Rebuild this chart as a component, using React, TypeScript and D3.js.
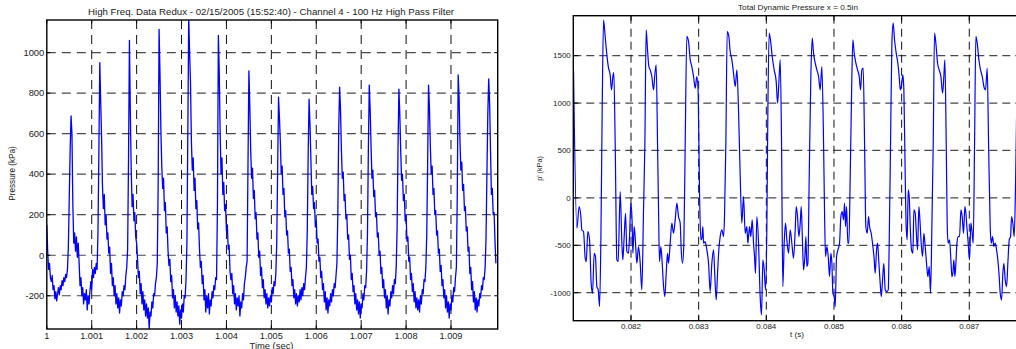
import React from 'react';
import * as d3 from 'd3';

// ---------- Left panel data (sampled every 0.00002 s from t = 1) ----------
const leftStart = 1;
const leftStep = 0.00002;
const leftValues = [
  150, 20, -70, -40, -110, -130, -100, -170, -150, -215, -180, -225, -190, -160, -195, -150, -170, -125, -150, -110, -130, -95, -110, -70, 40, 280, 520,
  688,
  600, 250, 60, 110, 20, 90, -10, 60, -40, -150, -110, -200, -160, -240, -190, -220, -170, -270, -200, -240, -180, -130, -170, -70, -110, -60, -90, -40, -70, 120, 520,
  950,
  760, 580, 340, 230, 300, 150, 200, 80, 110, 10, 40, -90, -40, -150, -110, -200, -150, -240, -190, -260, -210, -285, -220, -250, -180, -200, -150, -170, -100, -60, 30, 480,
  1060,
  700, 420, 240, 300, 170, 210, 90, 60, -20, -110, -80, -190, -140, -240, -180, -270, -220, -300, -240, -310, -260, -363, -280, -300, -230, -260, -190, -200, -140, -110, -40, 350,
  1115,
  900, 620, 440, 330, 380, 220, 260, 110, 140, 20, -50, -20, -130, -100, -210, -170, -260, -200, -280, -230, -300, -250, -340, -270, -310, -240, -280, -200, -210, -120, 60, 600,
  1175,
  1000, 850, 560, 420, 480, 320, 380, 230, 270, 130, 160, 30, -60, -30, -140, -100, -220, -170, -280, -200, -260, -190, -290, -220, -250, -180, -210, -150, -170, -110, -120, 250,
  1085,
  900, 600, 400, 480, 300, 360, 220, 250, 120, 150, 30, 50, -80, -120, -90, -190, -150, -240, -190, -270, -210, -250, -200, -300, -230, -260, -190, -220, -140, -110, -60, -30, 450,
  910,
  740, 520, 380, 430, 280, 320, 180, 210, 80, 110, -10, 20, -100, -60, -160, -120, -210, -170, -240, -190, -260, -210, -250, -200, -230, -160, -190, -130, -150, -90, 60, 420,
  780,
  680, 560, 400, 440, 300, 330, 190, 220, 100, 120, 10, 30, -80, -60, -150, -120, -210, -170, -240, -190, -250, -200, -230, -170, -220, -160, -200, -140, -170, -110, -60, 120, 500,
  770,
  650, 480, 300, 340, 230, 260, 140, 170, 60, 80, -30, -10, -110, -80, -170, -140, -230, -180, -270, -210, -285, -220, -250, -190, -230, -170, -200, -140, -160, -100, -40, 200, 620,
  830,
  720, 520, 380, 410, 270, 300, 180, 200, 80, 100, -20, 0, -120, -90, -180, -150, -240, -190, -270, -220, -290, -230, -310, -240, -260, -190, -220, -150, -160, -80, 100, 520,
  840,
  720, 540, 380, 420, 290, 320, 190, 210, 90, 110, 0, 20, -90, -60, -160, -120, -210, -170, -260, -200, -290, -220, -250, -180, -210, -150, -190, -120, -140, -60, 130, 520,
  820,
  700, 520, 370, 400, 270, 300, 170, 200, 70, 90, -30, -10, -120, -90, -180, -140, -230, -180, -260, -210, -270, -220, -280, -200, -240, -170, -190, -120, -130, -60, 100, 450,
  840,
  730, 540, 400, 440, 300, 330, 200, 220, 100, 120, 10, 30, -80, -50, -150, -120, -210, -170, -260, -200, -280, -230, -310, -240, -270, -200, -230, -160, -180, -110, -60, 300,
  890,
  780, 560, 420, 460, 320, 350, 220, 240, 120, 140, 20, 40, -90, -60, -170, -130, -230, -180, -270, -210, -280, -220, -250, -190, -210, -150, -170, -110, -120, -60, 80, 400, 700,
  870,
  750, 520, 300, 330, 200, 210, 70, -40,
];
const leftXTicks = [1, 1.001, 1.002, 1.003, 1.004, 1.005, 1.006, 1.007, 1.008, 1.009];
const leftXTickLabels = ['1', '1.001', '1.002', '1.003', '1.004', '1.005', '1.006', '1.007', '1.008', '1.009'];
const leftYTicks = [-200, 0, 200, 400, 600, 800, 1000];
const leftTitle = 'High Freq. Data Redux - 02/15/2005 (15:52:40) - Channel 4 - 100 Hz High Pass Filter';

// ---------- Right panel data (time in ms, pressure in kPa) ----------
const rightTimeMs = [
  81.150, 81.200, 81.234, 81.259, 81.273, 81.298, 81.323, 81.338, 81.362, 81.387, 81.411, 81.431, 81.456, 81.475, 81.495, 81.515, 81.535, 81.554, 81.574,
  81.594, 81.618, 81.643, 81.668, 81.692, 81.712, 81.732, 81.746, 81.766, 81.791, 81.810, 81.840, 81.865, 81.879, 81.899, 81.919, 81.939, 81.963, 81.978,
  81.998, 82.017, 82.027, 82.047, 82.067, 82.086, 82.111, 82.136, 82.160, 82.185, 82.205,
  82.224, 82.244, 82.264, 82.283, 82.308, 82.333, 82.352, 82.372, 82.392, 82.407, 82.421, 82.441, 82.461, 82.481, 82.500, 82.520, 82.540, 82.554, 82.579,
  82.604, 82.628, 82.653, 82.678, 82.702, 82.727, 82.742, 82.761, 82.781, 82.801,
  82.825, 82.850, 82.875, 82.899, 82.924, 82.949, 82.973, 82.993, 83.013, 83.032, 83.047, 83.062, 83.072, 83.096, 83.121, 83.146, 83.170, 83.195, 83.220,
  83.239, 83.259, 83.279, 83.298, 83.318, 83.343, 83.368, 83.382, 83.402,
  83.422, 83.446, 83.466, 83.491, 83.515, 83.540, 83.565, 83.589, 83.614, 83.638, 83.663, 83.688, 83.712, 83.727, 83.752, 83.771, 83.791, 83.811, 83.826,
  83.840, 83.860, 83.885, 83.909, 83.929, 83.949, 83.969, 83.988, 84.008, 84.023,
  84.042, 84.067, 84.087, 84.116, 84.146, 84.166, 84.185, 84.205, 84.225, 84.244, 84.264, 84.284, 84.303, 84.328, 84.353, 84.377, 84.402, 84.427, 84.442,
  84.461, 84.481, 84.501, 84.516, 84.535, 84.550, 84.570, 84.585, 84.599, 84.614, 84.634, 84.658,
  84.678, 84.698, 84.723, 84.747, 84.772, 84.796, 84.821, 84.846, 84.860, 84.875, 84.895, 84.915, 84.934, 84.954, 84.969, 84.984, 85.003, 85.018, 85.038,
  85.058, 85.082, 85.102, 85.122, 85.141, 85.156, 85.171, 85.186, 85.205, 85.220, 85.240, 85.260,
  85.279, 85.299, 85.324, 85.348, 85.373, 85.393, 85.412, 85.432, 85.452, 85.471, 85.491, 85.511, 85.526, 85.550, 85.570, 85.595, 85.609, 85.629, 85.644,
  85.664, 85.683, 85.698, 85.718, 85.737, 85.757, 85.782, 85.802, 85.816, 85.836, 85.856,
  85.875, 85.895, 85.920, 85.944, 85.964, 85.979, 85.999, 86.018, 86.033, 86.053, 86.067, 86.082, 86.097, 86.112, 86.127, 86.146, 86.166, 86.181, 86.201,
  86.215, 86.235, 86.255, 86.270, 86.289, 86.309, 86.329, 86.348, 86.368, 86.388, 86.408, 86.427, 86.447, 86.467,
  86.486, 86.506, 86.531, 86.555, 86.580, 86.605, 86.624, 86.639, 86.659, 86.674, 86.688, 86.708, 86.728, 86.743, 86.757, 86.772, 86.787, 86.802, 86.817,
  86.836, 86.856, 86.876, 86.895, 86.915, 86.935, 86.950, 86.964, 86.984, 87.004, 87.023, 87.038, 87.058, 87.078,
  87.097, 87.117, 87.142, 87.166, 87.191, 87.216, 87.240, 87.265, 87.285, 87.309, 87.324, 87.344, 87.363, 87.383, 87.403, 87.422, 87.442, 87.457, 87.477,
  87.496, 87.511, 87.531, 87.551, 87.570, 87.590, 87.610, 87.625, 87.644, 87.664, 87.684, 87.704, 87.728,
];
const rightValues = [
  1350, -320, -91, -197, -338, -355, -636, -672, -355, -443, -900, -1006, -584, -619, -935, -970, -1146, -478, 928,
  1878, 1702, 1508, 1368, 1297, 1139, 1280, 1322, 577, -654, -672, 67, -478, -654, -408, -162, -566, -584, -408,
  -56, -267, -584, -302, -478, -689, -513, -689, -970, -127, 577,
  1772, 1561, 1385, 1350, 1280, 1139, 1297, 1403, 577, -127, -672, -513, -689, -935, -1041, -795, -584, -689, -478,
  -267, -373, -232, -56, -197, -267, -549, -689, -478, 577,
  1702, 1649, 1456, 1385, 1280, 1157, 1280, 1104, 49, -443, -426, -302, -478, -461, -549, -689, -988, -689, -549,
  -830, -1076, -795, -549, -408, -338, -408, -197, 577,
  1754, 1702, 1543, 1456, 1315, 1174, 1350, 928, 225, -267, 14, -373, -302, -478, -302, -408, -232, -478, -619,
  -795, -197, -478, -1041, -1234, -654, -759, -970, -302, 928,
  1737, 1631, 1491, 1350, 1227, 999, 1209, 1456, 577, -935, -478, -267, -443, -584, -338, -478, -636, -338, -91,
  -197, -408, -267, -91, -478, -759, -619, -408, -724, -689, 225, 1280,
  1684, 1526, 1420, 1350, 1280, 1139, 1385, 577, -127, -619, -513, -619, -830, -584, -689, -1006, -1041, -1146, -619,
  -549, -478, -197, -144, -232, -56, -302, -91, -478, -478, 225, 1104,
  1666, 1526, 1420, 1350, 1280, 1139, 1350, 1368, 577, -302, -373, -197, -302, -373, -478, -654, -795, -549, -478,
  -689, -900, -1041, -865, -689, -970, -988, -970, -478, 577, 1631,
  1842, 1667, 1526, 1420, 1280, 1139, 1192, 1297, 1139, 225, -302, -443, 85, 14, -302, -549, -584, -127, -162,
  -338, -549, -91, -232, -478, -619, -373, -513, -689, -830, -724, -1006, -302, 577,
  1737, 1631, 1420, 1350, 1280, 1104, 1280, 1456, 577, -302, -478, -443, -654, -830, -795, -654, -830, -689, -478,
  -408, -408, -127, -197, -373, -91, -162, -302, -478, -654, -267, -338, -478, 577,
  1702, 1631, 1456, 1350, 1280, 1174, 1139, 1368, 577, -302, -478, -408, -513, -478, -549, -654, -830, -1006, -1076,
  -795, -689, -865, -935, -689, -443, -408, -197, -267, -408, 155, 1104, 1770,
];
const rightXTicks = [82, 83, 84, 85, 86, 87];
const rightXTickLabels = ['0.082', '0.083', '0.084', '0.085', '0.086', '0.087'];
const rightYTicks = [-1000, -500, 0, 500, 1000, 1500];
const rightYTickLabels = ['-1000', '-500', '0', '500', '1000', '1500'];
const rightTitle = 'Total Dynamic Pressure x = 0.5in';

const FONT = '"Liberation Sans", Arial, Helvetica, sans-serif';

export default function App() {
  // Left axes geometry
  const L = { x0: 46.8, x1: 497.7, y0: 20, y1: 329 };
  const lx = d3.scaleLinear().domain([1, 1.01004]).range([L.x0, L.x1]);
  const ly = d3.scaleLinear().domain([-364, 1161]).range([L.y1, L.y0]);
  const leftLine = d3
    .line<number>()
    .x((_, i) => lx(leftStart + i * leftStep))
    .y((d) => ly(d));
  const leftPath = leftLine(leftValues) || '';

  // Right axes geometry (right border falls outside the picture)
  const R = { x0: 573.3, x1: 1040.2, y0: 15.7, y1: 320.7 };
  const rx = d3.scaleLinear().domain([81.147, 88.048]).range([R.x0, R.x1]);
  const ry = d3.scaleLinear().domain([-1295, 1921]).range([R.y1, R.y0]);
  const rightPts = rightTimeMs.map((t, i) => [t, rightValues[i]] as [number, number]);
  const rightLine = d3
    .line<[number, number]>()
    .x((d) => rx(d[0]))
    .y((d) => ry(d[1]))
    .curve(d3.curveMonotoneX);
  const rightPath = rightLine(rightPts) || '';

  const gridH = '#4a4a4a';
  const gridV = '#111';
  const tc = '#222';

  return (
    <svg
      width={1016}
      height={349}
      style={{ position: 'absolute', left: 0, top: 0, background: '#fff' }}
      fontFamily={FONT}
    >
      <defs>
        <clipPath id="clipL">
          <rect x={L.x0} y={L.y0} width={L.x1 - L.x0} height={L.y1 - L.y0} />
        </clipPath>
        <clipPath id="clipR">
          <rect x={R.x0} y={R.y0} width={R.x1 - R.x0} height={R.y1 - R.y0} />
        </clipPath>
      </defs>
      <rect x={0} y={0} width={1016} height={349} fill="#fff" />

      {/* ---------------- LEFT PANEL ---------------- */}
      <g>
        {leftYTicks.map((v) => (
          <line key={'lgh' + v} x1={L.x0} x2={L.x1} y1={ly(v)} y2={ly(v)} stroke={gridH} strokeWidth={1.2} strokeDasharray="9,6" />
        ))}
        {leftXTicks.slice(1).map((v) => (
          <line key={'lgv' + v} x1={lx(v)} x2={lx(v)} y1={L.y0} y2={L.y1} stroke={gridV} strokeWidth={1} strokeDasharray="9,6" />
        ))}
        <path d={leftPath} fill="none" stroke="#0000ff" strokeWidth={1.3} strokeLinejoin="round" clipPath="url(#clipL)" />
        <rect x={L.x0} y={L.y0} width={L.x1 - L.x0} height={L.y1 - L.y0} fill="none" stroke="#000" strokeWidth={1.4} />
        {leftYTicks.map((v) => (
          <g key={'lyt' + v}>
            <line x1={L.x0} x2={L.x0 + 3.5} y1={ly(v)} y2={ly(v)} stroke="#000" />
            <line x1={L.x1} x2={L.x1 - 3.5} y1={ly(v)} y2={ly(v)} stroke="#000" />
            <text x={L.x0 - 2.5} y={ly(v)} dy="0.35em" textAnchor="end" fontSize={9.4} fill={tc}>
              {String(v)}
            </text>
          </g>
        ))}
        {leftXTicks.map((v, i) => (
          <g key={'lxt' + v}>
            <line x1={lx(v)} x2={lx(v)} y1={L.y1} y2={L.y1 - 3.5} stroke="#000" />
            <line x1={lx(v)} x2={lx(v)} y1={L.y0} y2={L.y0 + 3.5} stroke="#000" />
            <text x={lx(v)} y={338.5} textAnchor="middle" fontSize={9.2} fill={tc}>
              {leftXTickLabels[i]}
            </text>
          </g>
        ))}
        <text x={271} y={15} textAnchor="middle" fontSize={8.6} fill={tc} textLength={366} lengthAdjust="spacingAndGlyphs">
          {leftTitle}
        </text>
        <text x={271.5} y={348.5} textAnchor="middle" fontSize={9.4} fill={tc}>
          Time (sec)
        </text>
        <text transform="translate(14.5,173.5) rotate(-90)" textAnchor="middle" fontSize={8.2} fill={tc}>
          Pressure (kPa)
        </text>
      </g>

      {/* ---------------- RIGHT PANEL ---------------- */}
      <g>
        {rightYTicks.map((v) => (
          <line key={'rgh' + v} x1={R.x0} x2={R.x1} y1={ry(v)} y2={ry(v)} stroke={gridH} strokeWidth={1.2} strokeDasharray="8,5" />
        ))}
        {rightXTicks.map((v) => (
          <line key={'rgv' + v} x1={rx(v)} x2={rx(v)} y1={R.y0} y2={R.y1} stroke={gridV} strokeWidth={1} strokeDasharray="8,5" />
        ))}
        <path d={rightPath} fill="none" stroke="#0000ff" strokeWidth={1.2} clipPath="url(#clipR)" />
        <rect x={R.x0} y={R.y0} width={R.x1 - R.x0} height={R.y1 - R.y0} fill="none" stroke="#000" strokeWidth={1.4} />
        {rightYTicks.map((v, i) => (
          <g key={'ryt' + v}>
            <line x1={R.x0} x2={R.x0 + 5} y1={ry(v)} y2={ry(v)} stroke="#000" />
            <text x={R.x0 - 2.5} y={ry(v)} dy="0.35em" textAnchor="end" fontSize={8} fill={tc}>
              {rightYTickLabels[i]}
            </text>
          </g>
        ))}
        {rightXTicks.map((v, i) => (
          <g key={'rxt' + v}>
            <line x1={rx(v)} x2={rx(v)} y1={R.y1} y2={R.y1 - 5} stroke="#000" />
            <line x1={rx(v)} x2={rx(v)} y1={R.y0} y2={R.y0 + 5} stroke="#000" />
            <text x={rx(v)} y={328.5} textAnchor="middle" fontSize={8} fill={tc}>
              {rightXTickLabels[i]}
            </text>
          </g>
        ))}
        <text x={798} y={9.5} textAnchor="middle" fontSize={7.4} fill={tc} textLength={120} lengthAdjust="spacingAndGlyphs">
          {rightTitle}
        </text>
        <text x={797} y={336.5} textAnchor="middle" fontSize={8} fill={tc}>
          t (s)
        </text>
        <text transform="translate(542,168.5) rotate(-90)" textAnchor="middle" fontSize={7.2} fill={tc}>
          p' (kPa)
        </text>
      </g>
    </svg>
  );
}
